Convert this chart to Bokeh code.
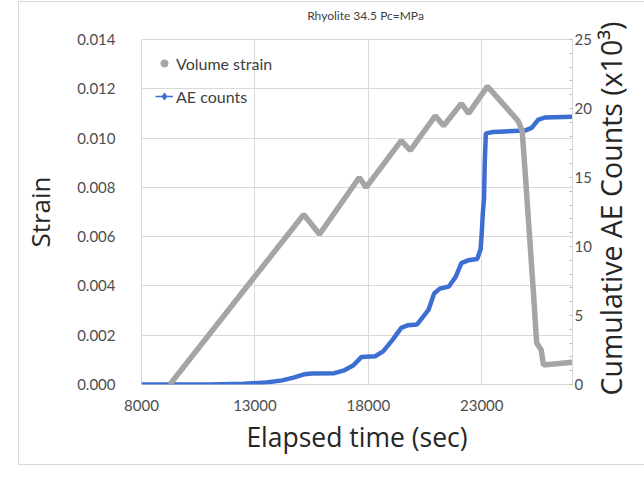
import math
from bokeh.plotting import figure
from bokeh.models import (Range1d, LinearAxis, SingleIntervalTicker, FixedTicker,
                          Legend, LegendItem, NumeralTickFormatter, Label)
from bokeh.embed import file_html
from bokeh.resources import INLINE

# ---- data ----
strain_time = [9250, 15150, 15850, 17600, 17900, 19450, 19850, 20950, 21320, 22100,
               22420, 23250, 24600, 24780, 24930, 25130, 25280, 25420, 25480, 25620,
               25720, 25820, 27000]
volume_strain = [0.0, 0.0069, 0.0061, 0.0084, 0.0080, 0.0099, 0.0095, 0.0109, 0.0105, 0.0114,
                 0.0110, 0.0121, 0.0107, 0.0103, 0.0084, 0.0057, 0.0037, 0.0017, 0.0016, 0.0014,
                 0.0008, 0.0008, 0.0009]

ae_time = [8000, 11000, 12500, 13500, 14200, 14700, 15200, 15500, 16500, 16900,
           17350, 17700, 18300, 18650, 19050, 19450, 19750, 20150, 20650, 20900,
           21150, 21550, 21850, 22100, 22400, 22800, 22950, 23000, 23050, 23100,
           23130, 23180, 23500, 24900, 25200, 25500, 25800, 27000]
ae_counts = [0, 0, 0.05, 0.15, 0.3, 0.5, 0.75, 0.8, 0.82, 1.0,
             1.4, 2.0, 2.05, 2.4, 3.2, 4.1, 4.3, 4.35, 5.4, 6.6,
             6.95, 7.1, 7.8, 8.8, 9.0, 9.1, 9.8, 11.0, 12.5, 13.5,
             16.0, 18.2, 18.3, 18.4, 18.6, 19.2, 19.35, 19.4]

x_ticks = [8000, 13000, 18000, 23000]
title_text = "Rhyolite 34.5 Pc=MPa"
x_title = "Elapsed time (sec)"
y_title = "Strain"
y2_title = "Cumulative AE Counts (x10\u00b3)"

X_MIN, X_MAX = 8000, 27000
Y_MAX, Y2_MAX = 0.014, 25

GRAY = "#a5a5a5"
BLUE = "#3d6fd2"
GRID = "#d9d9d9"
TXT = "#4d4d4d"
FONT = "Lato"
TFONT = "Open Sans"

p = figure(width=626, height=464, output_backend="svg", toolbar_location=None,
           x_range=Range1d(X_MIN, X_MAX), y_range=Range1d(0, Y_MAX),
           min_border_left=111, min_border_right=73, min_border_top=37, min_border_bottom=82)
p.margin = (1, 0, 0, 18)
p.styles = {"border-left": "1px solid #d9d9d9", "border-top": "1px solid #d9d9d9",
            "border-bottom": "1px solid #d9d9d9"}
p.extra_y_ranges = {"ae": Range1d(0, Y2_MAX)}
p.background_fill_color = "white"
p.border_fill_color = "white"
p.outline_line_color = GRID
p.title.text = ""
p.title.visible = False

# axes
xa = p.xaxis[0]
xa.ticker = FixedTicker(ticks=x_ticks)
ya = p.yaxis[0]
ya.ticker = SingleIntervalTicker(interval=0.002, num_minor_ticks=0)
ya.formatter = NumeralTickFormatter(format="0.000")
for ax in (xa, ya):
    ax.axis_line_color = None
    ax.major_tick_line_color = None
    ax.minor_tick_line_color = None
    ax.major_label_text_font = FONT
    ax.major_label_text_font_size = "15px"
    ax.major_label_text_color = TXT
    ax.axis_label_text_font = TFONT
    ax.axis_label_text_font_style = "normal"
    ax.axis_label_text_color = "#262626"
xa.axis_label_text_font_size = "26.5px"
ya.axis_label_text_font_size = "26px"
xa.axis_label = x_title
ya.axis_label = y_title
xa.major_label_standoff = 9
xa.axis_label_standoff = 5
ya.major_label_standoff = 20
ya.axis_label_standoff = 16

ra = LinearAxis(y_range_name="ae", ticker=SingleIntervalTicker(interval=5, num_minor_ticks=5))
ra.axis_line_color = GRID
ra.major_tick_line_color = "#bfbfbf"
ra.minor_tick_line_color = "#bfbfbf"
ra.major_tick_in = 3
ra.major_tick_out = 0
ra.minor_tick_in = 3
ra.minor_tick_out = 0
ra.major_label_standoff = 2
ra.major_label_text_font = FONT
ra.major_label_text_font_size = "15px"
ra.major_label_text_color = TXT
p.add_layout(ra, "right")

# right axis title (reads bottom-to-top), placed in the right side panel
p.add_layout(Label(x=16, y=176, x_units="screen", y_units="screen",
                   text=y2_title, angle=math.pi / 2, text_align="center",
                   text_baseline="middle", text_font=TFONT, text_font_size="28.5px",
                   text_color="#262626"), "right")

# chart title, placed in the top side panel
p.add_layout(Label(x=224, y=24, x_units="screen", y_units="screen",
                   text=title_text, text_align="center", text_baseline="middle",
                   text_font=FONT, text_font_size="12px", text_color="#404040"), "above")

# grid
p.xgrid.ticker = FixedTicker(ticks=x_ticks)
p.xgrid.grid_line_color = GRID
p.ygrid.grid_line_color = GRID

# series
blue_line = p.line(ae_time, ae_counts, y_range_name="ae", line_color=BLUE, line_width=4.5)
gray_line = p.line(strain_time, volume_strain, line_color=GRAY, line_width=5.5)

# legend proxies (placed outside the visible range)
gray_dot = p.scatter([0], [0], marker="circle", size=4, fill_color=GRAY, line_color=GRAY)
blue_dot = p.scatter([0], [0], marker="diamond", size=6, fill_color=BLUE, line_color=BLUE,
                     y_range_name="ae")
blue_leg_line = p.line([0, 1], [0, 0], line_color=BLUE, line_width=1.5, y_range_name="ae")

legend = Legend(items=[LegendItem(label="Volume strain", renderers=[gray_dot]),
                       LegendItem(label="AE counts", renderers=[blue_leg_line, blue_dot])],
                location=(14, 278), orientation="vertical",
                background_fill_alpha=0, border_line_color=None,
                padding=0, margin=0, spacing=13, glyph_width=18, glyph_height=20,
                label_height=20, label_standoff=3,
                label_text_font=FONT, label_text_font_size="16px", label_text_color="#404040")
p.add_layout(legend, "center")

open("out.html", "w").write(file_html(p, INLINE))
